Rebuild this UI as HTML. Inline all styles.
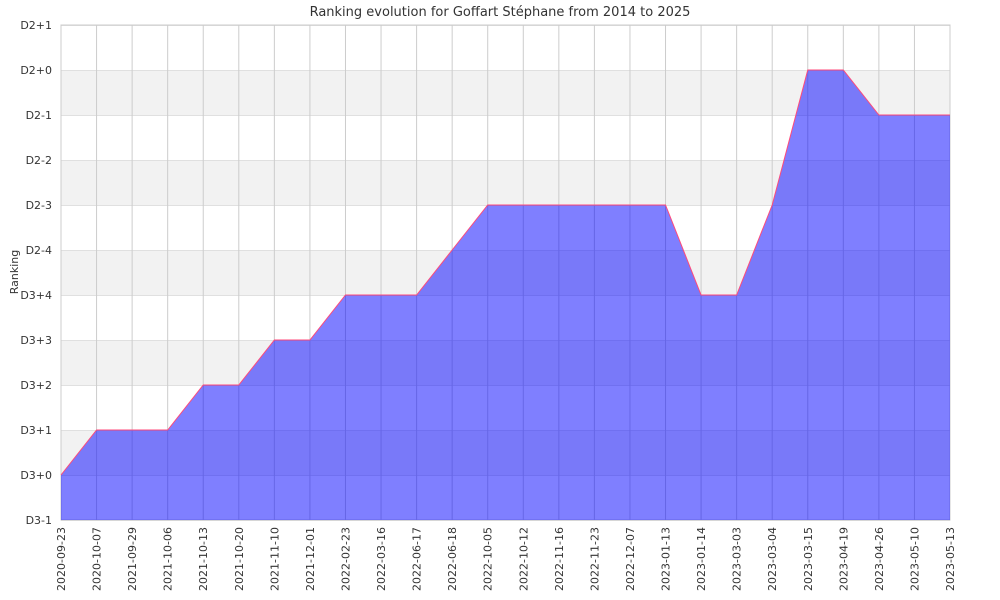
<!DOCTYPE html>
<html><head><meta charset="utf-8"><style>body{margin:0;background:#fff}svg{display:block}text{font-family:"DejaVu Sans","Liberation Sans",sans-serif;font-size:11px;fill:#333}</style></head><body>
<svg width="1000" height="600" xmlns="http://www.w3.org/2000/svg">
<text x="500" y="16" text-anchor="middle" style="font-size:13px">Ranking evolution for Goffart Stéphane from 2014 to 2025</text>
<g fill="#f2f2f2"><rect x="61" y="70" width="889" height="45"/><rect x="61" y="160" width="889" height="45"/><rect x="61" y="250" width="889" height="45"/><rect x="61" y="340" width="889" height="45"/><rect x="61" y="430" width="889" height="45"/></g>
<g id="grid" stroke="#ccc" stroke-width="1"></g>
<rect x="61" y="25" width="889" height="495" fill="none" stroke="#ccc"/>
<polygon id="area" fill="rgba(0,0,255,0.5)" stroke="none"/>
<polyline id="line" fill="none" stroke="#ff4a7a" stroke-width="1"/>
<g id="yl"></g><g id="xl"></g>
<text transform="translate(18,272) rotate(-90)" text-anchor="middle">Ranking</text>
</svg>
<script>
var ns="http://www.w3.org/2000/svg";
var ylab=["D2+1","D2+0","D2-1","D2-2","D2-3","D2-4","D3+4","D3+3","D3+2","D3+1","D3+0","D3-1"];
var xlab=["2020-09-23","2020-10-07","2021-09-29","2021-10-06","2021-10-13","2021-10-20","2021-11-10","2021-12-01","2022-02-23","2022-03-16","2022-06-17","2022-06-18","2022-10-05","2022-10-12","2022-11-16","2022-11-23","2022-12-07","2023-01-13","2023-01-14","2023-03-03","2023-03-04","2023-03-15","2023-04-19","2023-04-26","2023-05-10","2023-05-13"];
var vals=[10,9,9,9,8,8,7,7,6,6,6,5,4,4,4,4,4,4,6,6,4,1,1,2,2,2];
var g=document.getElementById("grid"),yl=document.getElementById("yl"),xl=document.getElementById("xl");
function el(t,a,p,tx){var e=document.createElementNS(ns,t);for(var k in a)e.setAttribute(k,a[k]);if(tx)e.textContent=tx;p.appendChild(e);}
for(var i=0;i<12;i++){var y=25+i*45;el("line",{x1:61,x2:950,y1:y+0.5,y2:y+0.5,stroke:"#e0e0e0"},g);el("text",{x:52,y:y+4,"text-anchor":"end"},yl,ylab[i]);}
var pts=[];
for(var i=0;i<26;i++){var x=61+i*889/25;el("line",{x1:x,x2:x,y1:25,y2:520,stroke:"#ccc"},g);el("text",{transform:"translate("+(x+4)+",527) rotate(-90)","text-anchor":"end"},xl,xlab[i]);pts.push(x+","+(25+vals[i]*45));}
document.getElementById("line").setAttribute("points",pts.join(" "));
document.getElementById("area").setAttribute("points","61,520 "+pts.join(" ")+" 950,520");
</script>
</body></html>
